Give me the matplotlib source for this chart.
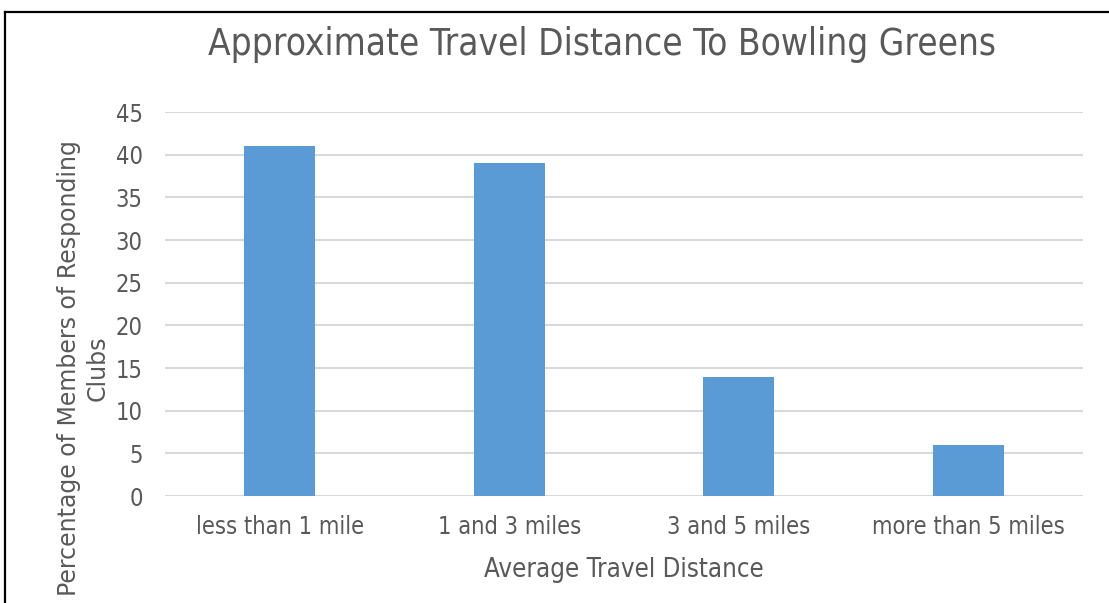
import matplotlib
matplotlib.use("Agg")
import matplotlib.pyplot as plt
from matplotlib.lines import Line2D

categories = ["less than 1 mile", "1 and 3 miles", "3 and 5 miles", "more than 5 miles"]
values = [41, 39, 14, 6]
yticks = [0, 5, 10, 15, 20, 25, 30, 35, 40, 45]

title = "Approximate Travel Distance To Bowling Greens"
xlabel = "Average Travel Distance"
ylabel = "Percentage of Members of Responding\nClubs"

TEXT = "#595959"
BAR = "#5B9BD5"
GRID = "#D9D9D9"
FAM = ["DejaVu Sans"]

W, H = 1109, 603
fig = plt.figure(figsize=(W / 100, H / 100), dpi=100)
fig.patch.set_facecolor("white")

ax = fig.add_axes([165 / W, 1 - 496 / H, (1083 - 165) / W, (496 - 112) / H])
x = list(range(len(categories)))
ax.bar(x, values, width=0.31, color=BAR, zorder=3)
ax.set_xlim(-0.5, len(categories) - 0.5)
ax.set_ylim(0, 45)
ax.set_yticks(yticks)
ax.set_xticks(x)
ax.set_xticklabels(categories)
for s in ax.spines.values():
    s.set_visible(False)
ax.yaxis.grid(True, color=GRID, linewidth=1.5, zorder=0)
ax.set_axisbelow(True)
ax.tick_params(axis="both", length=0, colors=TEXT)
ax.tick_params(axis="y", pad=16)
ax.tick_params(axis="x", pad=14)
for lab in ax.get_xticklabels() + ax.get_yticklabels():
    lab.set_family(FAM)
    lab.set_stretch("condensed")
    lab.set_fontsize(17)
    lab.set_color(TEXT)

fig.text(602 / W, 1 - 55 / H, title, ha="center", va="baseline",
         fontsize=26.5, color=TEXT, family=FAM, stretch="condensed")
fig.text(623.5 / W, 1 - 577 / H, xlabel, ha="center", va="baseline",
         fontsize=18.5, color=TEXT, family=FAM, stretch="condensed")
fig.text(83 / W, 1 - 368 / H, ylabel, ha="center", va="center", rotation=90,
         multialignment="center", linespacing=1.25,
         fontsize=17, color=TEXT, family=FAM)

# outer border (top and left)
fig.add_artist(Line2D([5 / W, 1], [1 - 12 / H, 1 - 12 / H], transform=fig.transFigure,
                      color="black", linewidth=1.6))
fig.add_artist(Line2D([5 / W, 5 / W], [0, 1 - 12 / H], transform=fig.transFigure,
                      color="black", linewidth=1.6))

fig.savefig("out.png", dpi=100)
